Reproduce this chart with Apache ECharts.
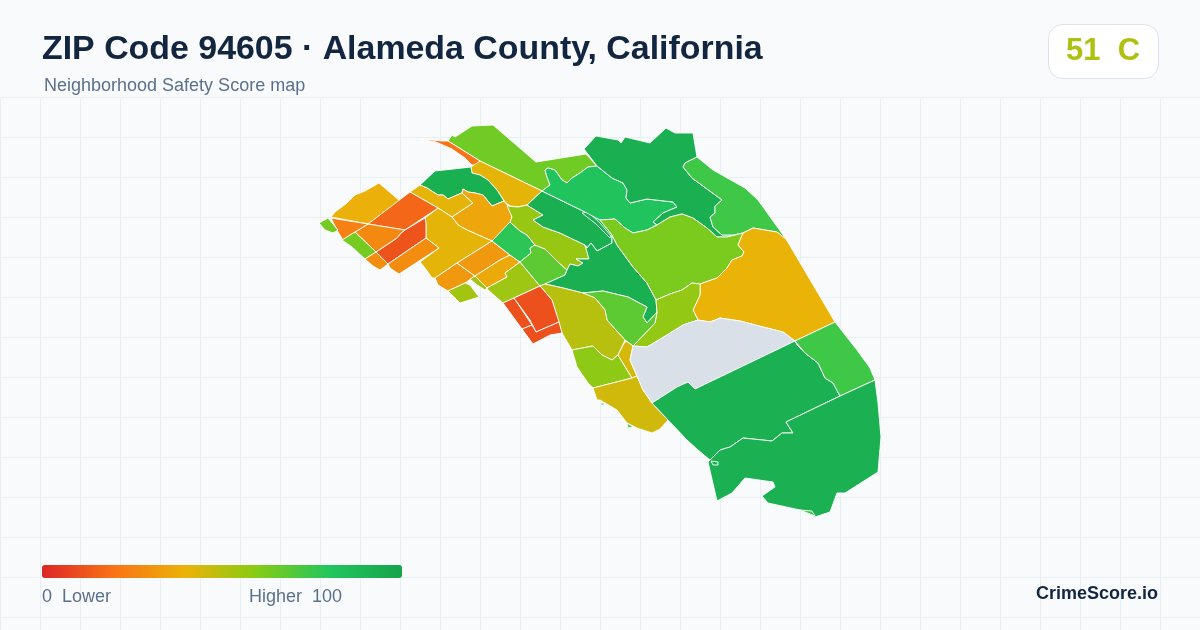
<!DOCTYPE html>
<html>
<head>
<meta charset="utf-8">
<title>ZIP Code 94605</title>
<script src="https://cdn.jsdelivr.net/npm/echarts@6/dist/echarts.min.js"></script>
<style>
    html, body { margin: 0; padding: 0; background: #f8fafc; }
    #page { position: relative; width: 1200px; height: 630px; overflow: hidden; }
    #grid {
        position: absolute; left: 0; top: 97px; width: 1200px; height: 533px;
        background-image:
            linear-gradient(to right, #e8eff4 1px, transparent 1px),
            linear-gradient(to bottom, #e8eff4 1px, transparent 1px);
        background-size: 40px 40px;
    }
    #chart { position: absolute; left: 0; top: 0; width: 1200px; height: 630px; }
</style>
</head>
<body>
<div id="page">
    <div id="grid"></div>
    <div id="chart"></div>
</div>
<script>
var titleText = 'ZIP Code 94605 · Alameda County, California';
var subtitleText = 'Neighborhood Safety Score map';
var badgeText = '51  C';
var brandText = 'CrimeScore.io';
var legendLowText = '0  Lower';
var legendHighText = 'Higher  100';

var scoreMin = 0;
var scoreMax = 100;
var scoreColors = ['#dc2626', '#f97316', '#eab308', '#84cc16', '#22c55e', '#16a34a'];

// score of each neighborhood, read from the fill colour. null = no data
var regionScores = [
    64, 20, 41, 93, 41, 36, 41, 39, 17, 12,
    27, 24, 63, 63, 28, 28, 32, 32, 37, 54,
    54, 55, 78, 68, 56, 93, 93, 93, 81, 93,
    74, 62, 40, 57, 68, 50, 58, 44, 45, null,
    92, 74, 92, 92, 74, 74, 74, 11, 11, 11
];

// outlines, one ring per neighborhood, same order as regionScores
var regionOutlines = [
    [[448,141],[452,135],[455,137],[472,126],[493,125],[536,162],[586,154],[597,166],[588,167],[580,173],[572,178],[567,183],[562,180],[555,170],[548,168],[545,170],[547,177],[550,185],[542,191],[480,161]],
    [[420,139],[443,141],[448,141],[480,161],[477,165],[472,165],[465,158],[452,149],[436,142]],
    [[480,161],[542,191],[527,205],[518,207],[510,206],[505,202],[497,190],[488,180],[480,175],[472,173],[471,167]],
    [[420,185],[435,171],[471,167],[472,173],[480,175],[488,180],[497,190],[504,201],[492,206],[483,195],[475,193],[468,192],[463,189],[462,193],[457,195],[448,199],[443,195],[438,195],[427,188]],
    [[410,192],[420,185],[427,188],[438,195],[443,195],[448,199],[457,195],[462,193],[473,203],[452,217],[438,208]],
    [[452,217],[473,203],[462,193],[463,189],[468,192],[475,193],[483,195],[492,206],[504,201],[508,206],[512,217],[510,223],[502,233],[492,241],[467,230],[458,225]],
    [[438,208],[452,217],[458,225],[467,230],[492,241],[457,263],[435,278],[432,278],[425,268],[420,262],[439,248],[426,238],[426,223],[425,218]],
    [[331,217],[335,212],[347,203],[355,195],[365,191],[379,183],[400,201],[368,224]],
    [[368,224],[410,192],[438,208],[405,230]],
    [[425,218],[426,223],[426,238],[388,264],[376,252],[397,238],[401,233],[405,230]],
    [[355,232],[368,224],[405,230],[401,233],[397,238],[376,252]],
    [[331,218],[368,224],[355,232],[343,240],[338,232]],
    [[319,223],[328,218],[338,230],[333,233],[325,230]],
    [[342,240],[355,232],[376,252],[365,259],[352,247]],
    [[365,259],[376,252],[388,264],[380,270],[373,266]],
    [[388,264],[426,238],[439,248],[399,274],[390,268]],
    [[435,278],[457,263],[475,276],[465,283],[448,291],[438,285]],
    [[457,263],[492,241],[510,255],[500,260],[475,276]],
    [[475,276],[500,260],[510,255],[520,262],[505,273],[507,277],[487,288]],
    [[448,291],[465,283],[470,285],[479,297],[460,303]],
    [[470,279],[473,277],[475,276],[487,288],[485,290],[477,285]],
    [[487,288],[507,277],[505,273],[520,262],[540,286],[503,303],[488,290]],
    [[492,241],[510,222],[520,231],[527,235],[535,245],[530,248],[531,253],[520,262],[510,255]],
    [[520,262],[531,253],[530,248],[535,245],[545,249],[558,262],[567,270],[565,275],[545,284],[540,286]],
    [[507,206],[518,207],[527,205],[543,215],[533,220],[543,227],[560,233],[585,245],[589,259],[576,259],[583,263],[578,266],[570,264],[567,270],[558,262],[545,249],[535,245],[527,235],[520,231],[510,222],[512,217]],
    [[527,205],[542,191],[583,211],[600,220],[612,235],[612,243],[597,251],[591,243],[587,248],[585,245],[560,233],[543,227],[533,220],[543,215]],
    [[582,213],[588,212],[600,223],[611,236],[610,238],[596,224]],
    [[545,284],[565,275],[567,270],[570,264],[578,266],[583,263],[576,259],[589,259],[585,245],[587,248],[591,243],[597,251],[612,243],[612,235],[617,245],[633,267],[647,283],[656,300],[657,312],[647,323],[643,317],[647,307],[628,297],[603,291],[583,293],[563,288]],
    [[545,170],[548,168],[555,170],[562,180],[567,183],[572,178],[580,173],[588,167],[597,166],[612,178],[623,183],[627,190],[626,198],[630,203],[647,199],[673,202],[677,207],[663,213],[653,222],[657,225],[647,230],[633,233],[625,228],[615,219],[600,220],[583,211],[542,191],[550,185],[547,177]],
    [[584,149],[596,136],[618,140],[621,143],[625,137],[650,143],[666,128],[675,133],[693,133],[697,157],[685,163],[683,167],[692,178],[722,200],[715,206],[715,213],[710,217],[713,227],[722,235],[733,235],[727,237],[717,237],[707,228],[693,218],[682,214],[670,217],[657,225],[653,222],[663,213],[677,207],[673,202],[647,199],[630,203],[626,198],[627,190],[623,183],[612,178],[597,166]],
    [[697,157],[713,170],[745,188],[758,200],[786,239],[777,232],[753,228],[743,233],[733,235],[722,235],[713,227],[710,217],[715,213],[715,206],[722,200],[692,178],[683,167],[685,163]],
    [[600,220],[615,219],[625,228],[633,233],[647,230],[657,225],[670,217],[682,214],[693,218],[707,228],[717,237],[727,237],[743,233],[738,245],[744,252],[742,256],[732,260],[727,268],[717,278],[700,284],[692,283],[682,290],[670,294],[656,300],[647,283],[633,267],[617,245],[612,235]],
    [[743,233],[753,228],[777,232],[786,239],[812,283],[835,322],[795,341],[783,332],[763,327],[740,321],[720,318],[710,322],[698,320],[693,310],[700,295],[700,284],[717,278],[727,268],[732,260],[742,256],[744,252],[738,245]],
    [[656,300],[670,294],[682,290],[692,283],[700,284],[700,295],[693,310],[698,320],[683,325],[667,335],[647,347],[633,346],[655,323],[657,312]],
    [[583,293],[603,291],[628,297],[647,307],[643,317],[647,323],[657,312],[655,323],[633,346],[625,340],[607,320],[605,310],[595,298]],
    [[540,286],[545,284],[563,288],[583,293],[595,298],[605,310],[607,320],[625,340],[618,355],[612,360],[602,355],[593,346],[572,350],[562,333],[552,300]],
    [[572,350],[593,346],[602,355],[612,360],[618,355],[632,378],[593,388],[588,383],[577,367]],
    [[618,355],[623,345],[626,341],[633,346],[630,360],[637,376],[632,378]],
    [[593,388],[632,378],[637,376],[643,390],[652,403],[668,420],[660,429],[652,433],[637,428],[627,423],[617,410],[600,400],[597,400]],
    [[633,346],[647,347],[667,335],[683,325],[698,320],[710,322],[720,318],[740,321],[763,327],[783,332],[795,341],[695,389],[688,382],[677,387],[652,403],[643,390],[637,376],[630,360]],
    [[652,403],[677,387],[688,382],[695,389],[795,341],[797,345],[805,353],[818,363],[825,378],[833,383],[840,396],[786,422],[793,433],[782,433],[772,441],[743,438],[730,447],[720,450],[710,460],[698,450],[687,440],[668,420]],
    [[795,341],[835,322],[857,350],[870,368],[875,380],[840,396],[833,383],[825,378],[818,363],[805,353]],
    [[710,460],[720,450],[730,447],[743,438],[772,441],[782,433],[793,433],[786,422],[840,396],[875,380],[878,403],[881,437],[878,472],[845,493],[837,493],[830,512],[815,517],[800,510],[768,503],[762,496],[775,487],[773,482],[745,478],[732,493],[717,501],[708,462]],
    [[711,461],[718,462],[718,465],[713,465]],
    [[800,510],[812,511],[815,516]],
    [[601,403],[604,403],[604,405],[601,405]],
    [[627,423],[633,427],[628,428]],
    [[503,303],[514,298],[532,325],[522,329]],
    [[514,298],[540,286],[552,300],[559,322],[536,332],[530,320]],
    [[522,329],[532,325],[536,332],[559,322],[562,333],[550,335],[533,344]]
];

var regionNames = regionOutlines.map(function (ring, i) { return 'area' + i; });

echarts.registerMap('neighborhoods', {
    type: 'FeatureCollection',
    features: regionOutlines.map(function (ring, i) {
        return {
            type: 'Feature',
            properties: { name: regionNames[i] },
            geometry: { type: 'Polygon', coordinates: [ring.concat([ring[0]])] }
        };
    })
});

var myChart = echarts.init(document.getElementById('chart'), null, { renderer: 'canvas' });

var option = {
    animation: false,
    backgroundColor: 'transparent',
    textStyle: { fontFamily: '"Liberation Sans", Arial, sans-serif' },
    title: [
        {
            text: titleText,
            left: 42,
            top: 33,
            padding: 0,
            textStyle: { fontSize: 33.9, fontWeight: 'bold', color: '#12263f', fontFamily: '"Liberation Sans", Arial, sans-serif' }
        },
        {
            text: subtitleText,
            left: 44,
            top: 77,
            padding: 0,
            textStyle: { fontSize: 18, fontWeight: 'normal', color: '#5b708c', fontFamily: '"Liberation Sans", Arial, sans-serif' }
        }
    ],
    visualMap: {
        type: 'continuous',
        min: scoreMin,
        max: scoreMax,
        orient: 'horizontal',
        left: 42,
        top: 565,
        padding: 0,
        itemWidth: 13,
        itemHeight: 360,
        borderRadius: 0,
        calculable: false,
        realtime: false,
        text: null,
        inRange: { color: scoreColors },
        outOfRange: { color: '#d9e0e8' },
        seriesIndex: 0
    },
    series: [
        {
            type: 'map',
            map: 'neighborhoods',
            projection: {
                project: function (p) { return p; },
                unproject: function (p) { return p; }
            },
            boundingCoords: [[0, 0], [1200, 630]],
            left: 0,
            top: 0,
            width: 1200,
            height: 630,
            roam: false,
            silent: true,
            label: { show: false },
            itemStyle: { areaColor: '#d9e0e8', borderColor: '#ffffff', borderWidth: 0.9 },
            data: regionNames.map(function (name, i) {
                return { name: name, value: regionScores[i] };
            })
        }
    ],
    graphic: [
        {
            type: 'rect',
            shape: { x: 1048.5, y: 24.5, width: 110, height: 54, r: 14 },
            style: { fill: '#ffffff', stroke: '#dde3ec', lineWidth: 1 }
        },
        {
            type: 'text',
            x: 1103,
            y: 51,
            style: { text: badgeText, fill: '#afc110', font: 'bold 31px "Liberation Sans", Arial, sans-serif', textAlign: 'center', textVerticalAlign: 'middle' }
        },
        {
            type: 'text',
            x: 42,
            y: 597,
            style: { text: legendLowText, fill: '#5b708c', font: '18px "Liberation Sans", Arial, sans-serif', textAlign: 'left', textVerticalAlign: 'middle' }
        },
        {
            type: 'text',
            x: 342,
            y: 597,
            style: { text: legendHighText, fill: '#5b708c', font: '18px "Liberation Sans", Arial, sans-serif', textAlign: 'right', textVerticalAlign: 'middle' }
        },
        {
            type: 'text',
            x: 1158,
            y: 594,
            style: { text: brandText, fill: '#12263f', font: 'bold 18px "Liberation Sans", Arial, sans-serif', textAlign: 'right', textVerticalAlign: 'middle' }
        }
    ]
};

myChart.setOption(option, true);
</script>
</body>
</html>
